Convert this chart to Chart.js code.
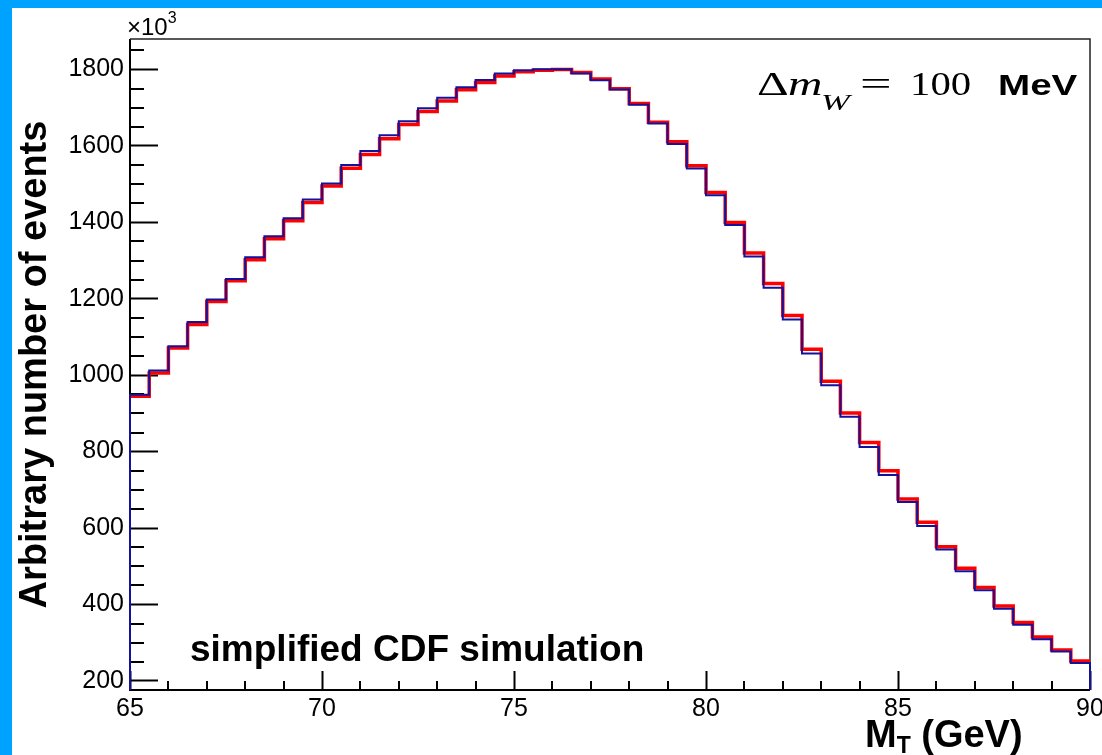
<!DOCTYPE html>
<html>
<head>
<meta charset="utf-8">
<script src="https://cdn.jsdelivr.net/npm/chart.js@4.4.1/dist/chart.umd.min.js"></script>
<style>
html,body{margin:0;padding:0;background:#fff;}
#wrap{position:relative;width:1102px;height:755px;overflow:hidden;background:#fff;}
#c{position:absolute;left:0;top:0;}
.strip{position:absolute;background:#00a2ff;}
.lbl{position:absolute;white-space:nowrap;color:#000;line-height:1;}
.m{font-family:'Liberation Serif',serif;transform-origin:0 0;}
</style>
</head>
<body>
<div id="wrap">
  <canvas id="c" width="1102" height="755"></canvas>
  <div class="strip" style="left:0;top:0;width:12px;height:755px"></div>
  <div class="strip" style="left:0;top:0;width:1102px;height:8px"></div>
  <div class="lbl" style="left:127px;top:15px;font-family:'Liberation Sans';font-size:24px">×10<span style="font-size:16px;position:relative;top:-12px">3</span></div>
  <div class="lbl" style="left:190px;top:630px;font-family:'Liberation Sans';font-size:37px;font-weight:bold">simplified CDF simulation</div>
  <div class="lbl" style="left:865px;top:715px;font-family:'Liberation Sans';font-size:38px;font-weight:bold">M<span style="font-size:23px;position:relative;top:6px">T</span> (GeV)</div>
  <div class="lbl m" style="left:757px;top:67px;font-size:34px;transform:scaleX(1.45)">Δ</div>
  <div class="lbl m" style="left:788px;top:67px;font-size:34px;font-style:italic;transform:scaleX(1.4)">m</div>
  <div class="lbl m" style="left:821px;top:91px;font-size:23px;font-style:italic;transform:scaleX(1.5)">W</div>
  <div class="lbl m" style="left:860px;top:67px;font-size:34px;transform:scaleX(1.65)">=</div>
  <div class="lbl m" style="left:910px;top:67px;font-size:34px;transform:scaleX(1.2)">100</div>
  <div class="lbl" style="left:998px;top:71px;font-family:'Liberation Sans';font-size:29px;font-weight:bold;transform:scaleX(1.33);transform-origin:0 0">MeV</div>
</div>
<script>
// ---- data (values in units of 10^3 events) ----
const binLowEdges = [65, 65.5, 66, 66.5, 67, 67.5, 68, 68.5, 69, 69.5,
                     70, 70.5, 71, 71.5, 72, 72.5, 73, 73.5, 74, 74.5,
                     75, 75.5, 76, 76.5, 77, 77.5, 78, 78.5, 79, 79.5,
                     80, 80.5, 81, 81.5, 82, 82.5, 83, 83.5, 84, 84.5,
                     85, 85.5, 86, 86.5, 87, 87.5, 88, 88.5, 89, 89.5];
const lastBinHighEdge = 90;
const nominalMass = [945, 1006, 1071, 1133, 1193, 1247, 1302, 1357, 1404, 1452,
                     1495, 1542, 1578, 1619, 1656, 1690, 1718, 1747, 1766, 1783,
                     1794, 1798, 1800, 1792, 1775, 1750, 1711, 1662, 1611, 1548,
                     1478, 1400, 1320, 1240, 1156, 1068, 984, 901, 824, 750,
                     676, 615, 551, 495, 444, 396, 353, 315, 281, 252];
const shiftedMass = [949, 1012, 1076, 1139, 1198, 1252, 1309, 1364, 1411, 1460,
                     1502, 1550, 1587, 1628, 1665, 1699, 1726, 1754, 1773, 1790,
                     1798, 1801, 1801, 1790, 1772, 1748, 1708, 1659, 1605, 1541,
                     1471, 1393, 1311, 1229, 1146, 1057, 974, 891, 812, 739,
                     668, 605, 544, 487, 437, 389, 347, 309, 277, 247];
const xTickValues = [65, 70, 75, 80, 85, 90];
const yTickValues = [200, 400, 600, 800, 1000, 1200, 1400, 1600, 1800];
const xRange = [65, 90];
const yRange = [176, 1880];

// histogram outline points built from the bins
function histOutline(vals, withEdges) {
  const pts = [];
  if (withEdges) pts.push({x: binLowEdges[0], y: yRange[0]});
  vals.forEach((v, i) => pts.push({x: binLowEdges[i], y: v}));
  pts.push({x: lastBinHighEdge, y: vals[vals.length - 1]});
  if (withEdges) pts.push({x: lastBinHighEdge, y: yRange[0]});
  return pts;
}

const frameAndMinor = {
  id: 'frameAndMinor',
  beforeDatasetsDraw(chart) {
    const {ctx, chartArea: a, scales: {x, y}} = chart;
    ctx.save();
    ctx.strokeStyle = '#000';
    ctx.lineWidth = 2;
    ctx.beginPath();
    for (let v = yTickValues[0]; v <= yRange[1]; v += 50) {
      if (yTickValues.includes(v)) continue;
      const py = Math.round(y.getPixelForValue(v));
      ctx.moveTo(a.left, py); ctx.lineTo(a.left + 14, py);
    }
    for (let v = xRange[0]; v <= xRange[1]; v += 1) {
      if (xTickValues.includes(v)) continue;
      const px = Math.round(x.getPixelForValue(v));
      ctx.moveTo(px, a.bottom); ctx.lineTo(px, a.bottom - 9);
    }
    ctx.stroke();
    ctx.beginPath();
    ctx.moveTo(a.left, a.top); ctx.lineTo(a.left, a.bottom); ctx.lineTo(a.right, a.bottom);
    ctx.stroke();
    ctx.lineWidth = 1.5;
    ctx.strokeStyle = '#222';
    ctx.beginPath();
    ctx.moveTo(a.left, a.top); ctx.lineTo(a.right, a.top); ctx.lineTo(a.right, a.bottom);
    ctx.stroke();
    ctx.restore();
  }
};

const tickFont = {family: "'Liberation Sans', Arial, sans-serif", size: 25};
const zeroPad = (s) => { s.paddingLeft = 0; s.paddingRight = 0; s.paddingTop = 0; s.paddingBottom = 0; };

new Chart(document.getElementById('c'), {
  type: 'line',
  data: {
    datasets: [
      {
        label: 'm_W + 100 MeV',
        data: histOutline(shiftedMass, true),
        borderColor: '#12129c',
        borderWidth: 2,
        stepped: 'before',
        pointRadius: 0,
        fill: false,
        clip: false,
        order: 0
      },
      {
        label: 'nominal',
        data: histOutline(nominalMass, false),
        borderColor: '#ff0000',
        borderWidth: 3.5,
        stepped: 'before',
        pointRadius: 0,
        fill: false,
        clip: false,
        order: 1
      }
    ]
  },
  options: {
    responsive: false,
    animation: false,
    layout: {padding: {left: 0, top: 39, right: 12, bottom: 0}},
    plugins: {legend: {display: false}, tooltip: {enabled: false}},
    scales: {
      x: {
        type: 'linear',
        min: xRange[0], max: xRange[1],
        afterBuildTicks: (s) => { s.ticks = xTickValues.map(v => ({value: v})); },
        afterFit: (s) => { s.height = 65; zeroPad(s); },
        border: {display: false},
        grid: {drawOnChartArea: false, drawTicks: true, tickLength: -19, tickWidth: 2, tickColor: '#000'},
        ticks: {color: '#000', font: tickFont, padding: 23, maxRotation: 0, autoSkip: false,
                callback: (v) => String(v)}
      },
      y: {
        type: 'linear',
        min: yRange[0], max: yRange[1],
        afterBuildTicks: (s) => { s.ticks = yTickValues.map(v => ({value: v})); },
        afterFit: (s) => { s.width = 130; zeroPad(s); },
        border: {display: false},
        grid: {drawOnChartArea: false, drawTicks: true, tickLength: -28, tickWidth: 2, tickColor: '#000'},
        ticks: {color: '#000', font: tickFont, padding: 34, autoSkip: false,
                callback: (v) => String(v)},
        title: {display: true, text: 'Arbitrary number of events', color: '#000',
                font: {family: "'Liberation Sans', Arial, sans-serif", size: 38, weight: 'bold'},
                padding: {top: 13, bottom: 0}}
      }
    }
  },
  plugins: [frameAndMinor]
});
</script>
</body>
</html>
